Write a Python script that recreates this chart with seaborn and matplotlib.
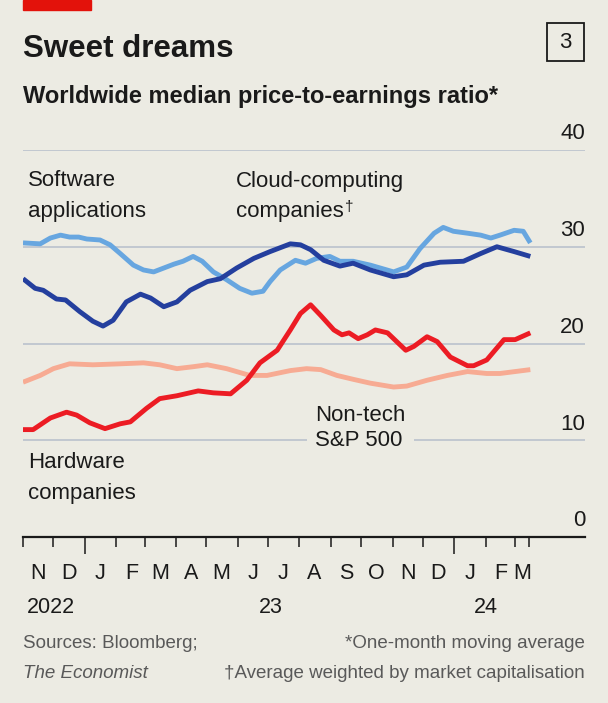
import pandas as pd
import matplotlib.pyplot as plt
import matplotlib.transforms as mtransforms
import seaborn as sns

# === Data (P/E, one-month moving average) ===
# x values are days since 1 Nov 2022
start = pd.Timestamp("2022-11-01")

software_day = [0, 17, 27, 37, 46, 55, 63, 76, 86, 96, 109, 119, 129, 139, 149, 158,
                168, 177, 188, 201, 214, 226, 237, 244, 254, 269, 279, 290, 303, 313,
                326, 343, 366, 379, 392, 406, 415, 425, 439, 452, 462, 471, 485, 494,
                501]
software_pe = [30.4, 30.3, 30.9, 31.2, 31.0, 31.0, 30.8, 30.7, 30.2, 29.3, 28.1, 27.6,
               27.4, 27.8, 28.2, 28.5, 29.0, 28.5, 27.4, 26.6, 25.7, 25.2, 25.4, 26.4,
               27.6, 28.6, 28.3, 28.8, 29.0, 28.5, 28.5, 28.1, 27.4, 27.9, 29.8, 31.4,
               32.0, 31.6, 31.4, 31.2, 30.9, 31.2, 31.7, 31.6, 30.4]

cloud_day = [0, 12, 20, 33, 42, 56, 69, 79, 89, 102, 116, 126, 139, 152, 165, 182, 195,
             211, 228, 244, 264, 274, 284, 297, 313, 326, 343, 366, 379, 396, 412, 435,
             452, 468, 485, 501]
cloud_pe = [26.7, 25.7, 25.5, 24.6, 24.5, 23.3, 22.3, 21.8, 22.4, 24.3, 25.1, 24.7,
            23.8, 24.3, 25.5, 26.4, 26.7, 27.8, 28.8, 29.5, 30.3, 30.2, 29.7, 28.6,
            28.0, 28.3, 27.6, 26.9, 27.1, 28.1, 28.4, 28.5, 29.3, 30.0, 29.5, 29.0]

hardware_day = [0, 10, 27, 43, 53, 66, 81, 96, 106, 122, 135, 152, 173, 188, 205, 221,
                234, 251, 264, 274, 284, 294, 307, 315, 322, 331, 340, 348, 360, 378,
                386, 399, 409, 422, 439, 445, 458, 475, 486, 501]
hardware_pe = [11.1, 11.1, 12.3, 12.9, 12.6, 11.8, 11.2, 11.7, 11.9, 13.3, 14.3, 14.6,
               15.1, 14.9, 14.8, 16.2, 18.0, 19.3, 21.4, 23.1, 24.0, 22.9, 21.4, 20.9,
               21.1, 20.5, 20.9, 21.4, 21.1, 19.3, 19.7, 20.7, 20.2, 18.6, 17.7, 17.7,
               18.3, 20.4, 20.4, 21.1]

nontech_day = [0, 17, 30, 46, 69, 96, 119, 135, 152, 168, 182, 201, 224, 241, 264, 280,
               294, 310, 326, 343, 366, 379, 399, 419, 439, 458, 471, 501]
nontech_pe = [16.0, 16.7, 17.4, 17.9, 17.8, 17.9, 18.0, 17.8, 17.4, 17.6, 17.8, 17.4,
              16.7, 16.7, 17.2, 17.4, 17.3, 16.7, 16.3, 15.9, 15.5, 15.6, 16.2, 16.7,
              17.1, 16.9, 16.9, 17.3]

month_letters = ["N", "D", "J", "F", "M", "A", "M", "J", "J", "A", "S", "O", "N", "D", "J", "F", "M"]
year_labels = ["2022", "23", "24"]
y_ticks = [0, 10, 20, 30, 40]

# --- colours ---
bg = "#ecebe3"
c_soft = "#67a6e0"
c_cloud = "#243f9e"
c_hard = "#ec1c24"
c_nontech = "#f7ab93"
grid_c = "#bec5cf"
ink = "#1a1a1a"

sns.set_style("white")
plt.rcParams['font.family'] = ['Liberation Sans', 'DejaVu Sans']

W, H = 608, 703
fig = plt.figure(figsize=(W / 100, H / 100), dpi=100, facecolor=bg)


def fx(px):
    return px / W


def fy(px):
    return 1 - px / H


ax = fig.add_axes([fx(23), fy(537), fx(585) - fx(23), (537 - 150) / H])
ax.set_facecolor(bg)

for yv in y_ticks[1:]:
    ax.axhline(yv, color=grid_c, lw=1.3, zorder=0)

series = [
    (nontech_day, nontech_pe, c_nontech),
    (hardware_day, hardware_pe, c_hard),
    (software_day, software_pe, c_soft),
    (cloud_day, cloud_pe, c_cloud),
]
for days, vals, col in series:
    df = pd.DataFrame({"date": start + pd.to_timedelta(days, unit="D"), "pe": vals})
    sns.lineplot(data=df, x="date", y="pe", color=col, lw=3.5, ax=ax,
                 solid_capstyle="butt", solid_joinstyle="round", zorder=3)

ax.set_xlim(start, pd.Timestamp("2024-05-09"))
ax.set_ylim(0, 40)
ax.set_xlabel("")
ax.set_ylabel("")
ax.set_yticks([])
for s in ["top", "right", "left"]:
    ax.spines[s].set_visible(False)
ax.spines["bottom"].set_linewidth(1.6)
ax.spines["bottom"].set_color(ink)

# ticks: long at year start, short at each month
month_starts = pd.date_range("2022-11-01", "2024-03-01", freq="MS")
jans = [d for d in month_starts if d.month == 1]
others = [d for d in month_starts if d.month != 1] + [pd.Timestamp("2024-03-15")]
ax.set_xticks(jans)
ax.set_xticks(others, minor=True)
ax.tick_params(axis="x", which="both", bottom=True, direction="out", width=1.1,
               color=ink, labelbottom=False)
ax.tick_params(axis="x", which="major", length=12.5)
ax.tick_params(axis="x", which="minor", length=7)

# month letters
for i, letter in enumerate(month_letters):
    d = month_starts[i] + pd.Timedelta(days=15)
    if i == len(month_letters) - 1:
        d = month_starts[i] + pd.Timedelta(days=7)
    ax.annotate(letter, xy=(d, 0), xytext=(0, -19), textcoords="offset points",
                ha="center", va="top", fontsize=15.5, color=ink)

# years
year_pos = [(pd.Timestamp("2022-11-05"), "left"), (pd.Timestamp("2023-07-04"), "center"),
            (pd.Timestamp("2024-02-01"), "center")]
for (d, ha), lab in zip(year_pos, year_labels):
    ax.annotate(lab, xy=(d, 0), xytext=(0, -43), textcoords="offset points",
                ha=ha, va="top", fontsize=15.5, color=ink)

# y labels on the right, above the gridlines
trans = mtransforms.blended_transform_factory(ax.transAxes, ax.transData)
for yv in y_ticks:
    ax.annotate(str(yv), xy=(1.0, yv), xycoords=trans, xytext=(0, 4),
                textcoords="offset points", ha="right", va="bottom",
                fontsize=16, color=ink)

# series labels
lab_kw = dict(fontsize=16, color=ink, va="center", ha="left")
fig.text(fx(28), fy(181), "Software", **lab_kw)
fig.text(fx(28), fy(211), "applications", **lab_kw)
fig.text(fx(236), fy(181), "Cloud-computing", **lab_kw)
comp = fig.text(fx(236), fy(211), "companies", **lab_kw)
fig.text(fx(28), fy(462), "Hardware", **lab_kw)
fig.text(fx(28), fy(493), "companies", **lab_kw)
fig.text(fx(315), fy(428), "Non-tech\nS&P 500", linespacing=1.3,
         bbox=dict(facecolor=bg, edgecolor="none", pad=6), **lab_kw)
fig.canvas.draw()
bb = comp.get_window_extent()
fig.text((bb.x1 + 1) / W, (bb.y1 + 1) / H, "\u2020", fontsize=11, color=ink,
         ha="left", va="top")

# header
fig.patches.append(plt.Rectangle((fx(23), fy(9.5)), fx(91) - fx(23), 9.5 / H,
                                 transform=fig.transFigure, color="#e3120b"))
fig.text(fx(23), fy(57), "Sweet dreams", fontsize=22.5, fontweight="bold",
         va="baseline", ha="left", color=ink)
fig.text(fx(23), fy(96), "Worldwide median price-to-earnings ratio*", fontsize=17,
         fontweight="bold", va="center", ha="left", color=ink)
fig.patches.append(plt.Rectangle((fx(547), fy(61)), fx(584) - fx(547), (61 - 23) / H,
                                 transform=fig.transFigure, facecolor="none",
                                 edgecolor=ink, lw=1.3))
fig.text(fx(565.5), fy(42), "3", fontsize=16, ha="center", va="center", color=ink)

# footer
foot = dict(fontsize=13.5, color="#595959", va="center")
fig.text(fx(23), fy(643), "Sources: Bloomberg;", ha="left", **foot)
fig.text(fx(23), fy(673), "The Economist", ha="left", style="italic", **foot)
fig.text(fx(585), fy(643), "*One-month moving average", ha="right", **foot)
fig.text(fx(585), fy(673), "\u2020Average weighted by market capitalisation", ha="right", **foot)

fig.savefig("out.png", dpi=100, facecolor=bg)
plt.close(fig)
